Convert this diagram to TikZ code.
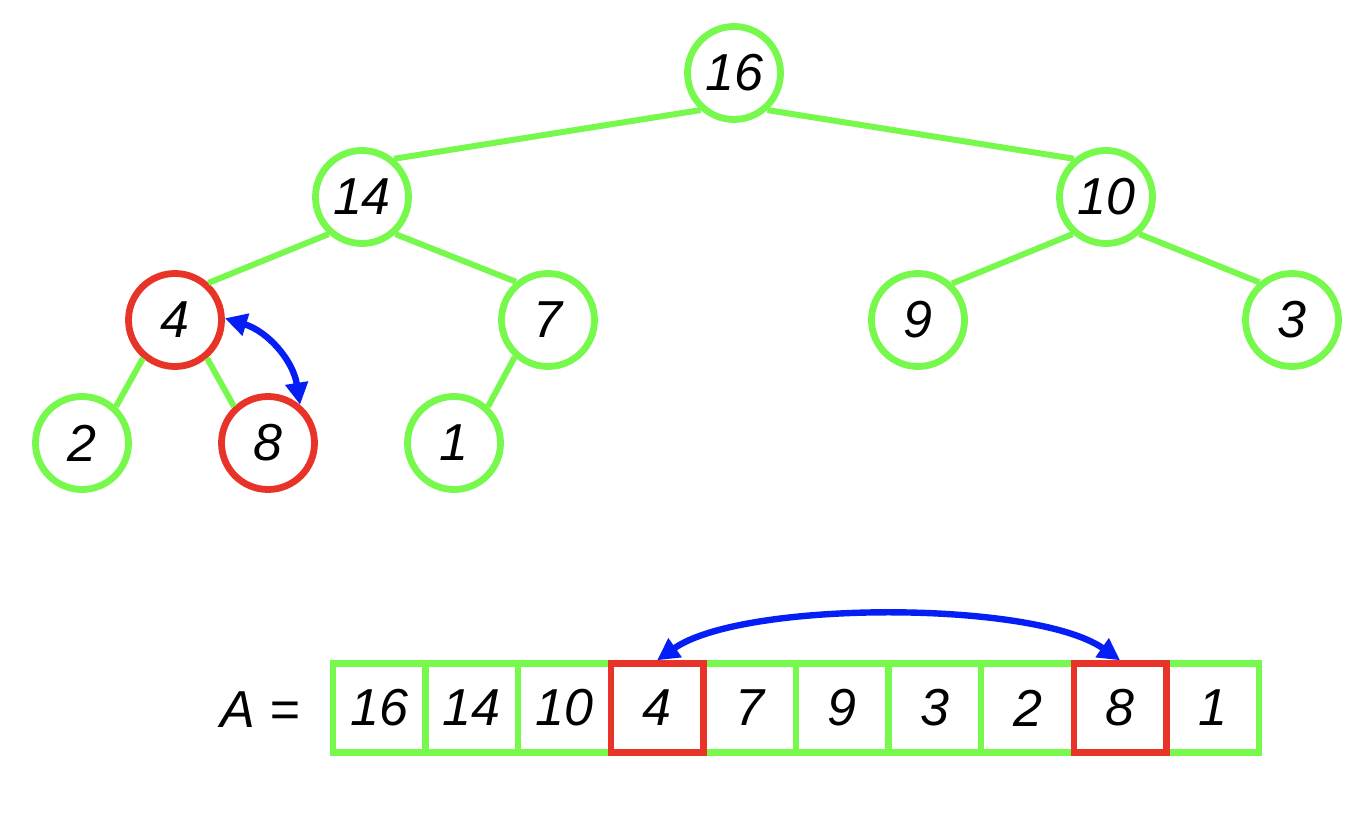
\documentclass[tikz,border=0pt]{standalone}
\usepackage{fontspec}
\setmainfont{Liberation Sans}
\usetikzlibrary{arrows.meta}
\definecolor{hgreen}{RGB}{118,248,76}
\definecolor{hred}{RGB}{232,52,40}
\definecolor{hblue}{RGB}{5,30,245}
\tikzset{
  hn/.style={circle, draw=hgreen, line width=3.4pt, fill=white, minimum size=46.5pt, inner sep=0pt, font=\fontsize{26}{30}\selectfont\itshape},
  hnred/.style={hn, draw=hred},
  edge/.style={draw=hgreen, line width=3pt},
  cell/.style={rectangle, draw=hgreen, line width=3.2pt, minimum width=46.3pt, minimum height=44.5pt, inner sep=0pt, font=\fontsize{26}{30}\selectfont\itshape},
  cellred/.style={cell, draw=hred},
  swap/.style={draw=hblue, line width=3.2pt, {Triangle[length=11pt,width=11pt]}-{Triangle[length=11pt,width=11pt]}}
}
\begin{document}
\begin{tikzpicture}[x=0.5pt,y=-0.5pt]
\useasboundingbox (0,0) rectangle (1370,828);
% tree nodes
\node[hn] (n16) at (734,73) {16};
\node[hn] (n14) at (362,197) {14};
\node[hn] (n10) at (1106,197) {10};
\node[hnred] (n4) at (175,320) {4};
\node[hn] (n7) at (548,320) {7};
\node[hn] (n9) at (918,320) {9};
\node[hn] (n3) at (1292,320) {3};
\node[hn] (n2) at (82,443) {2};
\node[hnred] (n8) at (268,443) {8};
\node[hn] (n1) at (454,443) {1};
% edges
\draw[edge] (n16.228) -- (n14.50);
\draw[edge] (n16.312) -- (n10.130);
\draw[edge] (n14.228) -- (n4.48);
\draw[edge] (n14.312) -- (n7.130);
\draw[edge] (n10.228) -- (n9.47);
\draw[edge] (n10.312) -- (n3.131);
\draw[edge] (n4.230) -- (n2.47);
\draw[edge] (n4.310) -- (n8.133);
\draw[edge] (n7.228) -- (n1.47);
% swap arrow in tree
\draw[swap] (n4.2) to[bend left=32] (n8.50);
% array
\node[font=\fontsize{26}{30}\selectfont\itshape] (lab) at (260,710) {A =};
\foreach \v [count=\i from 0] in {16,14,10,4,7,9,3,2,8,1} {
  \node[cell] (a\i) at ({379.3+92.6*\i},708) {\v};
}
\node[cellred] at (a3) {};
\node[cellred] at (a8) {};
\draw[swap] (a3.north) to[out=35,in=145,looseness=0.58] (a8.north);
\end{tikzpicture}
\end{document}
